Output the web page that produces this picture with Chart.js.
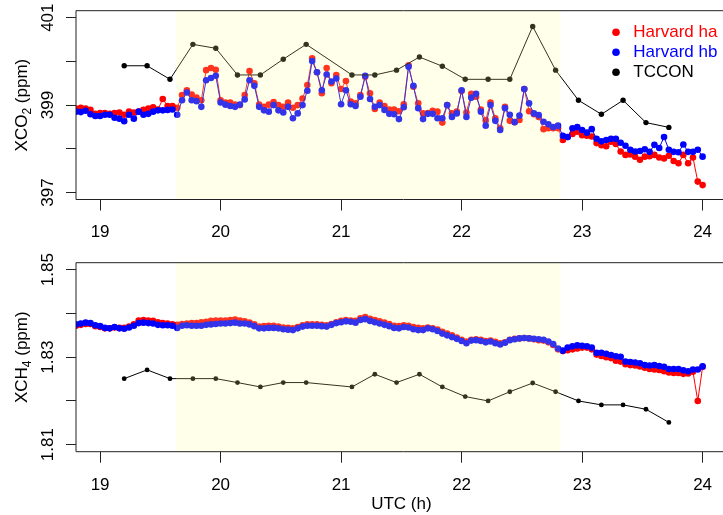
<!DOCTYPE html>
<html>
<head>
<meta charset="utf-8">
<title>XCO2 / XCH4 overpass</title>
<script src="https://cdn.jsdelivr.net/npm/chart.js@4.4.1/dist/chart.umd.min.js"></script>
<style>
  html, body { margin: 0; padding: 0; background: #fff; overflow: hidden; }
  #wrap { position: relative; width: 723px; height: 515px; overflow: hidden; }
  #wrap canvas { position: absolute; left: 0; }
  #co2 { top: 0; }
  #ch4 { top: 250px; }
</style>
</head>
<body>
<div id="wrap">
  <canvas id="co2" width="730" height="250"></canvas>
  <canvas id="ch4" width="730" height="265"></canvas>
</div>
<script>
// Harvard soundings: one every 0.04 h from 18.80 to 24.00 UTC
const HARVARD_T = Array.from({ length: 131 }, (_, i) => +(18.8 + 0.04 * i).toFixed(2));
const TCCON_T = [19.20, 19.39, 19.58, 19.77, 19.96, 20.14, 20.33, 20.52, 20.71, 21.09, 21.28, 21.46,
                 21.65, 21.84, 22.03, 22.22, 22.40, 22.59, 22.78, 22.97, 23.16, 23.34, 23.53, 23.72];

const CO2_HA = [
  398.92, 398.94, 398.92, 398.89, 398.80, 398.82, 398.82, 398.80, 398.82, 398.83,
  398.78, 398.85, 398.83, 398.85, 398.89, 398.92, 398.95, 398.90, 399.14, 398.98,
  398.98, 398.94, 399.23, 399.34, 399.24, 399.17, 399.11, 399.80, 399.85, 399.81,
  399.11, 399.06, 399.06, 399.01, 399.00, 399.23, 399.78, 399.50, 399.01, 398.96,
  399.01, 399.07, 399.00, 398.96, 399.06, 398.94, 399.00, 399.15, 399.46, 400.07,
  399.75, 399.27, 399.85, 399.50, 399.69, 399.37, 399.55, 399.08, 399.04, 399.23,
  399.65, 399.27, 398.91, 399.06, 398.98, 398.90, 398.90, 398.86, 399.02, 399.91,
  399.42, 399.04, 398.81, 398.82, 398.87, 398.85, 398.60, 399.00, 398.81, 398.85,
  399.32, 398.83, 399.26, 399.19, 398.90, 398.65, 399.06, 398.70, 398.47, 398.96,
  398.64, 398.61, 398.66, 399.37, 398.86, 398.79, 398.73, 398.45, 398.47, 398.47,
  398.47, 398.20, 398.27, 398.34, 398.39, 398.31, 398.30, 398.28, 398.13, 398.08,
  398.06, 398.16, 398.11, 397.94, 397.86, 397.87, 397.82, 397.75, 397.82, 397.83,
  397.86, 397.80, 397.78, 397.84, 397.72, 397.67, 397.86, 397.67, 397.80, 397.25,
  397.17];
const CO2_HB = [
  398.85, 398.84, 398.87, 398.79, 398.75, 398.75, 398.78, 398.78, 398.71, 398.69,
  398.63, 398.78, 398.69, 398.85, 398.78, 398.80, 398.85, 398.88, 398.88, 398.89,
  398.90, 398.78, 399.11, 399.29, 399.11, 399.09, 398.96, 399.57, 399.62, 399.67,
  399.06, 399.01, 398.98, 398.96, 399.01, 399.13, 399.57, 399.44, 398.96, 398.88,
  398.85, 399.00, 398.88, 398.83, 398.96, 398.70, 398.81, 399.00, 399.33, 400.01,
  399.75, 399.34, 399.70, 399.54, 399.61, 399.02, 399.34, 399.02, 398.98, 399.19,
  399.67, 399.14, 398.96, 399.00, 398.89, 398.80, 398.79, 398.68, 398.95, 399.88,
  399.44, 398.93, 398.68, 398.80, 398.80, 398.70, 398.70, 399.00, 398.73, 398.81,
  399.34, 398.73, 399.17, 399.26, 398.85, 398.53, 399.00, 398.64, 398.43, 398.93,
  398.78, 398.61, 398.76, 399.37, 399.04, 398.81, 398.77, 398.62, 398.56, 398.50,
  398.53, 398.30, 398.27, 398.47, 398.50, 398.43, 398.37, 398.45, 398.23, 398.17,
  398.20, 398.23, 398.23, 398.14, 398.07, 397.98, 397.94, 397.95, 397.99, 397.93,
  398.09, 398.02, 398.27, 397.98, 397.93, 397.92, 398.10, 397.93, 397.93, 397.98,
  397.82];
const CO2_TCCON = [399.90, 399.90, 399.59, 400.39, 400.30, 399.69, 399.69, 400.05, 400.39, 399.69, 399.69, 399.80,
                   400.10, 399.89, 399.59, 399.59, 399.59, 400.80, 399.80, 399.11, 398.79, 399.11, 398.60, 398.49];

const CH4_HA = [
  1.8372, 1.8374, 1.8376, 1.8376, 1.8371, 1.8369, 1.8366, 1.8366, 1.8368, 1.8367,
  1.8367, 1.8370, 1.8375, 1.8384, 1.8385, 1.8384, 1.8383, 1.8380, 1.8378, 1.8377,
  1.8375, 1.8374, 1.8376, 1.8377, 1.8378, 1.8378, 1.8380, 1.8381, 1.8383, 1.8384,
  1.8384, 1.8384, 1.8385, 1.8386, 1.8384, 1.8382, 1.8379, 1.8375, 1.8370, 1.8371,
  1.8372, 1.8372, 1.8370, 1.8368, 1.8367, 1.8366, 1.8369, 1.8373, 1.8375, 1.8375,
  1.8375, 1.8374, 1.8373, 1.8376, 1.8380, 1.8383, 1.8385, 1.8384, 1.8383, 1.8389,
  1.8392, 1.8388, 1.8385, 1.8382, 1.8379, 1.8376, 1.8372, 1.8371, 1.8373, 1.8372,
  1.8369, 1.8367, 1.8366, 1.8368, 1.8366, 1.8363, 1.8358, 1.8354, 1.8350, 1.8345,
  1.8340, 1.8336, 1.8340, 1.8341, 1.8340, 1.8337, 1.8338, 1.8335, 1.8332, 1.8334,
  1.8340, 1.8342, 1.8343, 1.8344, 1.8343, 1.8341, 1.8339, 1.8338, 1.8334, 1.8328,
  1.8318, 1.8314, 1.8316, 1.8318, 1.8320, 1.8322, 1.8322, 1.8318, 1.8306, 1.8303,
  1.8300, 1.8298, 1.8292, 1.8290, 1.8284, 1.8282, 1.8281, 1.8279, 1.8276, 1.8273,
  1.8272, 1.8271, 1.8268, 1.8265, 1.8264, 1.8264, 1.8262, 1.8263, 1.8267, 1.8200,
  1.8278];
const CH4_HB = [
  1.8375, 1.8377, 1.8379, 1.8378, 1.8373, 1.8371, 1.8367, 1.8366, 1.8369, 1.8366,
  1.8365, 1.8368, 1.8372, 1.8378, 1.8379, 1.8378, 1.8377, 1.8374, 1.8373, 1.8373,
  1.8372, 1.8367, 1.8372, 1.8373, 1.8372, 1.8372, 1.8372, 1.8374, 1.8375, 1.8376,
  1.8377, 1.8377, 1.8378, 1.8379, 1.8377, 1.8377, 1.8375, 1.8371, 1.8366, 1.8366,
  1.8367, 1.8367, 1.8366, 1.8364, 1.8363, 1.8362, 1.8366, 1.8370, 1.8372, 1.8372,
  1.8372, 1.8371, 1.8370, 1.8374, 1.8378, 1.8380, 1.8382, 1.8381, 1.8379, 1.8385,
  1.8387, 1.8383, 1.8380, 1.8377, 1.8374, 1.8371, 1.8367, 1.8366, 1.8369, 1.8368,
  1.8364, 1.8362, 1.8362, 1.8366, 1.8364, 1.8360, 1.8354, 1.8350, 1.8346, 1.8342,
  1.8337, 1.8332, 1.8338, 1.8339, 1.8337, 1.8334, 1.8336, 1.8332, 1.8329, 1.8333,
  1.8339, 1.8341, 1.8343, 1.8344, 1.8343, 1.8342, 1.8341, 1.8340, 1.8336, 1.8330,
  1.8320, 1.8315, 1.8322, 1.8325, 1.8327, 1.8326, 1.8325, 1.8322, 1.8310, 1.8310,
  1.8308, 1.8305, 1.8302, 1.8301, 1.8290, 1.8289, 1.8288, 1.8286, 1.8282, 1.8281,
  1.8282, 1.8280, 1.8278, 1.8273, 1.8273, 1.8273, 1.8270, 1.8268, 1.8272, 1.8272,
  1.8279];
const CH4_TCCON = [1.8251, 1.8271, 1.8251, 1.8251, 1.8251, 1.8242, 1.8232, 1.8242, 1.8242, 1.8232, 1.8261, 1.8242,
                   1.8261, 1.8232, 1.8210, 1.8200, 1.8221, 1.8241, 1.8221, 1.8200, 1.8191, 1.8191, 1.8181, 1.8151];

const SERIES_NAMES = ['Harvard ha', 'Harvard hb', 'TCCON'];
const SERIES_COLORS = ['#ff0000', '#0000ff', '#000000'];
const X_TICKS = [19, 20, 21, 22, 23, 24];
const CO2_TICKS = [397, 398, 399, 400, 401];
const CO2_LABELS = [397, 399, 401];
const CH4_TICKS = [1.81, 1.82, 1.83, 1.84, 1.85];
const CH4_LABELS = [1.81, 1.83, 1.85];
const OVERPASS = [19.63, 22.82];

const FONT = '"Liberation Sans", Arial, Helvetica, sans-serif';

// shading, box, rotated y labels, y title and legend (R look)
const panelDecor = {
    id: 'panelDecor',
    afterDatasetsDraw(chart, args, opts) {
        const { ctx, chartArea: a } = chart;
        const x = chart.scales.x, y = chart.scales.y;
        ctx.save();

        const x1 = x.getPixelForValue(OVERPASS[0]);
        const x2 = x.getPixelForValue(OVERPASS[1]);
        ctx.fillStyle = 'rgba(255, 255, 150, 0.2)';
        ctx.fillRect(x1, a.top, x2 - x1, a.bottom - a.top);

        ctx.strokeStyle = '#222';
        ctx.lineWidth = 1;
        ctx.beginPath();
        ctx.moveTo(a.right + 5, a.top);
        ctx.lineTo(a.left, a.top);
        ctx.lineTo(a.left, a.bottom);
        ctx.lineTo(a.right + 5, a.bottom);
        ctx.stroke();

        ctx.fillStyle = '#000';
        ctx.font = `17px ${FONT}`;
        ctx.textAlign = 'center';
        ctx.textBaseline = 'alphabetic';
        opts.labels.forEach(v => {
            ctx.save();
            ctx.translate(53.3, y.getPixelForValue(v));
            ctx.rotate(-Math.PI / 2);
            ctx.fillText(opts.format(v), 0, 0);
            ctx.restore();
        });

        // y title with subscript
        const [pre, sub, post] = opts.title;
        ctx.save();
        ctx.translate(26.7, (a.top + a.bottom) / 2);
        ctx.rotate(-Math.PI / 2);
        ctx.textAlign = 'left';
        ctx.font = `17px ${FONT}`;
        const w1 = ctx.measureText(pre).width, w3 = ctx.measureText(post).width;
        ctx.font = `12px ${FONT}`;
        const w2 = ctx.measureText(sub).width;
        let cx = -(w1 + w2 + w3) / 2;
        ctx.font = `17px ${FONT}`;
        ctx.fillText(pre, cx, 0);
        cx += w1;
        ctx.font = `12px ${FONT}`;
        ctx.fillText(sub, cx, 4);
        cx += w2;
        ctx.font = `17px ${FONT}`;
        ctx.fillText(post, cx, 0);
        ctx.restore();

        if (opts.legend) {
            ctx.font = `17px ${FONT}`;
            ctx.textAlign = 'left';
            ctx.textBaseline = 'middle';
            chart.data.datasets.forEach((ds, i) => {
                const ly = a.top + 21.6 + 20 * i;
                ctx.fillStyle = ds.borderColor;
                ctx.beginPath();
                ctx.arc(a.right - 110.7, ly, 3.8, 0, Math.PI * 2);
                ctx.fill();
                ctx.fillText(ds.label, a.right - 93.4, ly + 0.5);
            });
        }
        ctx.restore();
    }
};

function makePanel(id, cfg) {
    const datasets = [cfg.ha, cfg.hb, cfg.tccon].map((vals, k) => {
        const times = k < 2 ? HARVARD_T : TCCON_T;
        return {
            label: SERIES_NAMES[k],
            data: times.map((t, i) => ({ x: t, y: vals[i] })),
            borderColor: SERIES_COLORS[k],
            backgroundColor: SERIES_COLORS[k],
            borderWidth: 1,
            pointRadius: k < 2 ? 3.3 : cfg.tcconRadius,
            pointBorderWidth: 0,
            pointHoverRadius: 0,
            tension: 0,
            order: 3 - k
        };
    });

    return new Chart(document.getElementById(id), {
        type: 'line',
        data: { datasets },
        options: {
            responsive: false,
            animation: false,
            events: [],
            layout: { padding: { top: cfg.padTop, right: 2.6, left: 0, bottom: 0 } },
            plugins: {
                legend: { display: false },
                tooltip: { enabled: false },
                panelDecor: { labels: cfg.labels, format: cfg.format, title: cfg.title, legend: cfg.legend }
            },
            scales: {
                x: {
                    type: 'linear',
                    min: 18.8,
                    max: 24.2,
                    afterBuildTicks: s => { s.ticks = X_TICKS.map(v => ({ value: v })); },
                    afterFit: s => { s.height = cfg.xHeight; },
                    border: { display: false },
                    grid: { drawOnChartArea: false, drawTicks: true, tickLength: 11, tickColor: '#222', tickWidth: 1 },
                    ticks: { color: '#000', font: { family: FONT, size: 17 }, padding: 12, maxRotation: 0, autoSkip: false },
                    title: {
                        display: cfg.xTitle,
                        text: 'UTC (h)',
                        color: '#000',
                        font: { family: FONT, size: 17 },
                        padding: { top: 0, bottom: 0 }
                    }
                },
                y: {
                    type: 'linear',
                    min: cfg.yMin,
                    max: cfg.yMax,
                    afterBuildTicks: s => { s.ticks = cfg.yTicks.map(v => ({ value: v })); },
                    afterFit: s => { s.width = 76; },
                    border: { display: false },
                    grid: { drawOnChartArea: false, drawTicks: true, tickLength: 10, tickColor: '#222', tickWidth: 1 },
                    ticks: { display: false }
                }
            }
        },
        plugins: [panelDecor]
    });
}

makePanel('co2', {
    ha: CO2_HA, hb: CO2_HB, tccon: CO2_TCCON, tcconRadius: 2.7,
    yMin: 396.84, yMax: 401.16, yTicks: CO2_TICKS, labels: CO2_LABELS,
    format: v => String(v), title: ['XCO', '2', ' (ppm)'],
    padTop: 10.7, xHeight: 50.5, xTitle: false, legend: true
});

makePanel('ch4', {
    ha: CH4_HA, hb: CH4_HB, tccon: CH4_TCCON, tcconRadius: 2.4,
    yMin: 1.8084, yMax: 1.8516, yTicks: CH4_TICKS, labels: CH4_LABELS,
    format: v => v.toFixed(2), title: ['XCH', '4', ' (ppm)'],
    padTop: 12.7, xHeight: 63.3, xTitle: true, legend: false
});
</script>
</body>
</html>
